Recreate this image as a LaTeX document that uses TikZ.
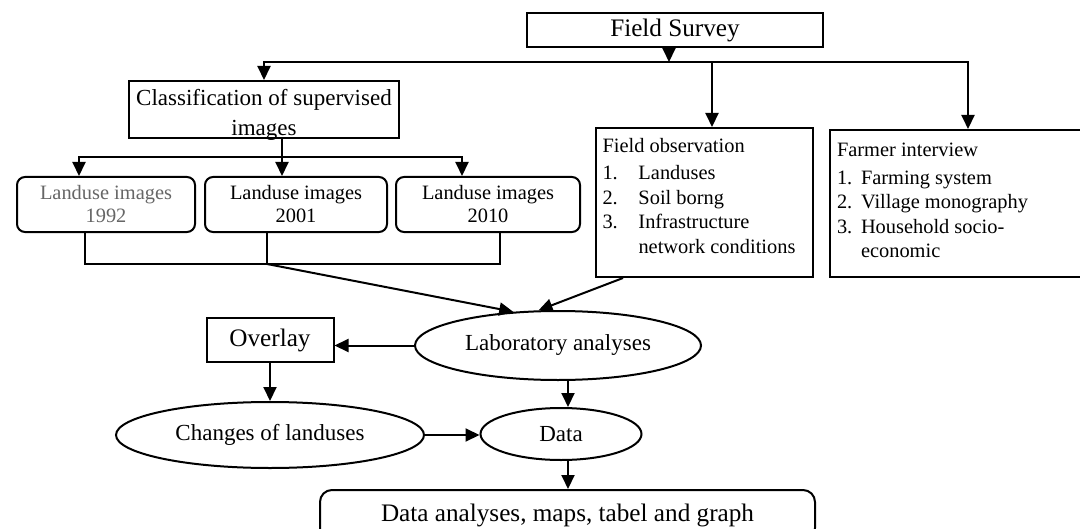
\documentclass[tikz,border=0pt]{standalone}
\usepackage{fontspec}
\setmainfont{Liberation Serif}
\usetikzlibrary{arrows.meta, shapes.geometric}
\newcommand{\toptext}[3]{\parbox[c][#2][t]{#1}{#3}}

\begin{document}
\begin{tikzpicture}[x=0.5pt, y=-0.5pt, line width=1pt,
      arr/.style={-{Triangle[length=7pt,width=6.5pt]}},
      sqbox/.style={draw=black, rectangle, inner sep=0pt},
      rbox/.style={draw=black, rectangle, rounded corners=4pt, inner sep=0pt, align=center},
      oval/.style={draw=black, ellipse, inner sep=0pt},
      big/.style={font=\fontsize{12.6}{15}\selectfont},
      mid/.style={font=\fontsize{11.5}{15}\selectfont},
      small/.style={font=\fontsize{10.2}{12.25}\selectfont},
      lu/.style={rbox, font=\fontsize{10.2}{11.5}\selectfont, minimum height=27.5pt}]
  \useasboundingbox[fill=white] (0,0) rectangle (1080,529);

  \node (fs) [sqbox, big, minimum width=148pt, minimum height=17pt] at (675,30) {Field Survey};
  \node (cls) [sqbox, mid] at (264,109.5)
    {\toptext{135pt}{28.5pt}{\centering\vspace*{4pt}Classification of supervised\\images}};
  \node (lu1) [lu, minimum width=89pt, text=black!60] at (106,204.5) {Landuse images\\1992};
  \node (lu2) [lu, minimum width=91pt] at (296,204.5) {Landuse images\\2001};
  \node (lu3) [lu, minimum width=92pt] at (488,204.5) {Landuse images\\2010};
  \node (fobs) [sqbox, small, inner xsep=3pt, minimum width=108.5pt] at (704.5,202.5)
    {\toptext{102pt}{74.5pt}{\vspace*{5pt}Field observation\\[1.5pt]
      \makebox[18pt][l]{1.}Landuses\\
      \makebox[18pt][l]{2.}Soil borng\\
      \makebox[18pt][l]{3.}Infrastructure\\
      \hspace*{18pt}network conditions}};
  \node (farm) [sqbox, small, inner xsep=3.5pt, minimum width=138pt] at (968,203.5)
    {\toptext{131pt}{73.5pt}{\vspace*{6.5pt}Farmer interview\\[1.5pt]
      \makebox[12pt][l]{1.}Farming system\\
      \makebox[12pt][l]{2.}Village monography\\
      \makebox[12pt][l]{3.}Household socio-\\
      \hspace*{12pt}economic}};
  \node (lab) [oval, mid, minimum width=143pt, minimum height=34.5pt] at (558,345.5) {Laboratory analyses};
  \node (ovl) [sqbox, big, minimum width=63.5pt, minimum height=22pt] at (270,340) {Overlay};
  \node (chg) [oval, mid, minimum width=154pt, minimum height=33pt] at (270,435) {Changes of landuses};
  \node (data) [oval, mid, minimum width=80.5pt, minimum height=26pt] at (561,434) {Data};
  \node (da) [rbox, big, rounded corners=6pt, minimum width=247.5pt, minimum height=25pt] at (567.5,515)
    {Data analyses, maps, tabel and graph};

  \coordinate (fsplit) at (669,62);
  \coordinate (csplit) at (282,157);
  \coordinate (lmerge) at (267,264);

  \draw[arr] (fs.south -| fsplit) -- (fsplit);
  \draw[arr] (fsplit) -| (cls.north);
  \draw[arr] (fsplit) -| (farm.north);
  \draw[arr] ([xshift=3.75pt]fobs.north |- fsplit) -- ([xshift=3.75pt]fobs.north);

  \draw (cls.south -| csplit) -- (csplit);
  \draw[arr] (csplit) -| ([xshift=-13.5pt]lu1.north);
  \draw[arr] (csplit) -- (lu2.north -| csplit);
  \draw[arr] (csplit) -| ([xshift=-13pt]lu3.north);

  \draw ([xshift=-10.5pt]lu1.south) |- (lmerge);
  \draw ([xshift=6pt]lu3.south) |- (lmerge);
  \draw ([xshift=-14.5pt]lu2.south) -- (lmerge);
  \draw[arr] (lmerge) -- (lab.143);
  \draw[arr] ([xshift=-40.75pt]fobs.south) -- (lab.119);

  \draw[arr] (lab.west) -- (lab.west -| ovl.east);
  \draw[arr] (ovl.south) -- (chg.north);
  \draw[arr] (chg.east) -- (chg.east -| data.west);
  \draw[arr] ([xshift=3.5pt]data.north |- lab.south) -- ([xshift=3.5pt]data.north);
  \draw[arr] ([xshift=3.5pt]data.south) -- ([xshift=3.5pt]data.south |- da.north);
\end{tikzpicture}
\end{document}
